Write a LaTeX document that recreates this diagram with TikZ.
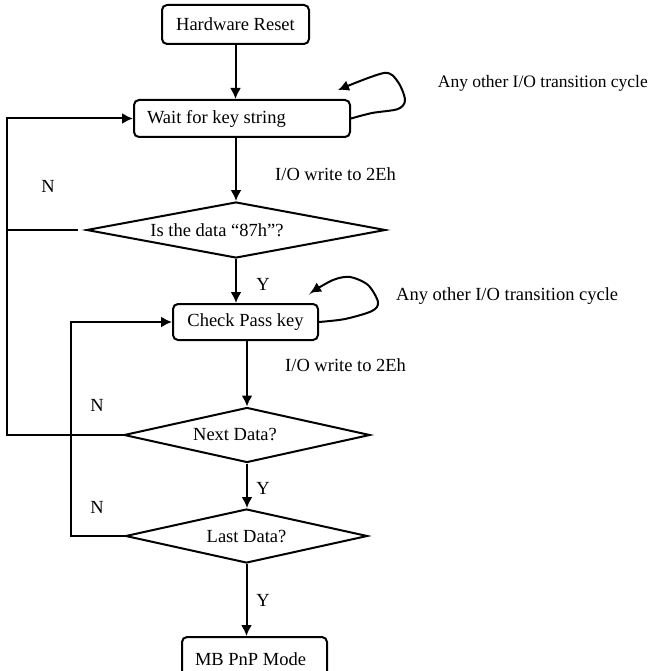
\documentclass[tikz,border=0pt]{standalone}
\usepackage{fontspec}
\setmainfont{Liberation Serif}
\usetikzlibrary{shapes.geometric,arrows.meta}
\newcommand{\flowfont}{\fontsize{18.5}{22}\selectfont}
\tikzset{box/.style={draw,line width=2pt,rounded corners=5pt,inner sep=0pt,font=\flowfont}}
\tikzset{decision/.style={draw,line width=2pt,diamond,aspect=4,inner sep=0pt,font=\flowfont}}
\tikzset{lbl/.style={inner sep=0pt,font=\flowfont}}
\tikzset{flow/.style={line width=2pt,->,>={Latex[length=11pt,width=11pt]}}}
\begin{document}
\begin{tikzpicture}[x=1pt,y=-1pt]
\useasboundingbox (0,0) rectangle (652,671);
\node[box,minimum width=147pt,minimum height=39pt] (hw) at (235.5,24.5) {Hardware Reset};
\node[box,minimum width=216pt,minimum height=37pt] (wait) at (242,118.5) {\makebox[190pt][l]{Wait for key string}};
\node[decision,minimum width=299pt,minimum height=56pt] (isdata) at (236,230) {Is the data “87h”?\hspace*{38pt}};
\node[box,minimum width=145pt,minimum height=36pt] (check) at (245.5,322) {Check Pass key};
\node[decision,minimum width=246pt,minimum height=55pt] (next) at (247,435) {Next Data?\hspace*{24pt}};
\node[decision,minimum width=242pt,minimum height=54pt] (last) at (246.5,536) {Last Data?};
\node[box,minimum width=145pt,minimum height=44pt] (mb) at (254.5,659) {\makebox[119pt][l]{MB PnP Mode}};
% main flow
\draw[flow] (hw.south) -- (hw.south |- wait.north);
\draw[flow] (isdata.north |- wait.south) -- (isdata.north);
\draw[flow] (isdata.south) -- (isdata.south |- check.north);
\draw[flow] (next.north |- check.south) -- (next.north);
\draw[flow] (next.south) -- (next.south |- last.north);
\draw[flow] (last.south) -- (last.south |- mb.north);
% self loops
\draw[flow] plot[smooth] coordinates {(wait.east) (372,113) (398,109) (405,100) (398,82) (384,73) (338,90)};
\draw[flow] plot[smooth] coordinates {(check.east) (345,319) (372,311) (378,302) (368,285) (350,277) (333,280) (310,293)};
% N branches
\coordinate (outer) at (7,435);
\draw[flow] (next.west) -- (outer) |- (wait.west);
\coordinate (gap) at (78,230);
\draw[line width=2pt] (gap) -- (gap -| outer);
\coordinate (inner) at (71,536);
\draw[flow] (last.west) -- (inner) |- (check.west);
% labels
\node[lbl,anchor=east,font=\fontsize{17.5}{21}\selectfont] (cyc1) at (648,83) {Any other I/O transition cycle};
\node[lbl,anchor=west] (wr1) at (275,174) {I/O write to 2Eh};
\node[lbl] (n1) at (48,186) {N};
\node[lbl] (y1) at (263,284) {Y};
\node[lbl,anchor=west] (cyc2) at (396,296) {Any other I/O transition cycle};
\node[lbl,anchor=west] (wr2) at (285,365) {I/O write to 2Eh};
\node[lbl] (n2) at (97,405) {N};
\node[lbl] (y2) at (263,488) {Y};
\node[lbl] (n3) at (97,507) {N};
\node[lbl] (y3) at (263,600) {Y};
\end{tikzpicture}
\end{document}
